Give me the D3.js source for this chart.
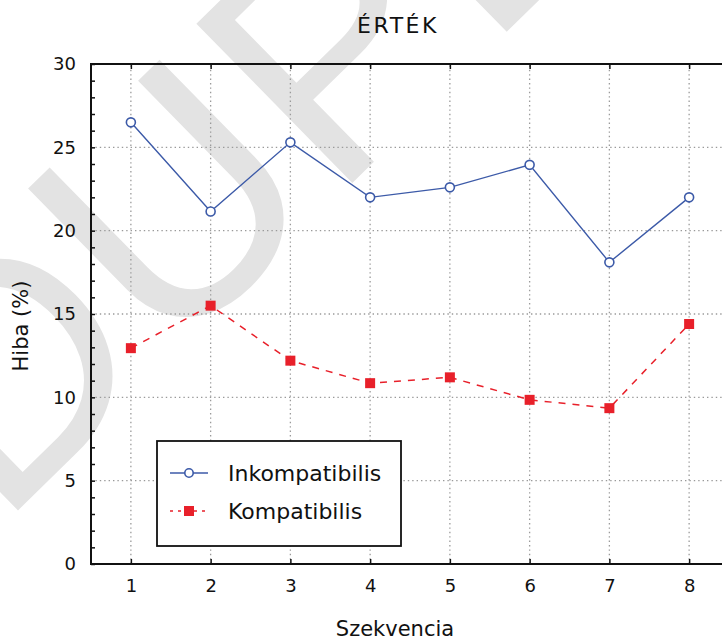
<!DOCTYPE html>
<html>
<head>
<meta charset="utf-8">
<script src="https://cdn.jsdelivr.net/npm/d3@7"></script>
<style>
  html, body { margin: 0; padding: 0; background: #fff; }
  svg { display: block; }
  text { font-family: "DejaVu Sans", Verdana, sans-serif; fill: #111; }
</style>
</head>
<body>
<svg id="chart" width="722" height="641"></svg>
<script>
// Sequence numbers on the x axis
const categories = [1, 2, 3, 4, 5, 6, 7, 8];
// Error rates (%) per sequence
const inkompatibilis = [26.5, 21.15, 25.3, 22.0, 22.6, 23.95, 18.1, 22.0];
const kompatibilis = [12.95, 15.5, 12.2, 10.85, 11.2, 9.85, 9.35, 14.4];
// Axis ticks
const yTicks = [0, 5, 10, 15, 20, 25, 30];
const yMinorTicks = d3.range(0, 31, 1);
const yGrid = [5, 10, 15, 20, 25];

const seriesNames = ["Inkompatibilis", "Kompatibilis"];
const titleText = "ÉRTÉK";
const xTitle = "Szekvencia";
const yTitle = "Hiba (%)";
const watermarkText = "DUPLIKÁTUM";

const svg = d3.select("#chart");

const x = d3.scaleLinear().domain([0.5, 8.5]).range([91, 729]);
const y = d3.scaleLinear().domain([0, 30]).range([564, 64]);

// Light grey diagonal watermark behind the chart
svg.append("text")
  .attr("transform", "translate(-1,529) rotate(-44.4)")
  .style("font-family", "'Liberation Sans', Arial, sans-serif")
  .style("font-size", "324px")
  .style("fill", "#e3e3e3")
  .text(watermarkText);

const plot = svg.append("g");

// Dotted grid
plot.append("g").selectAll("line").data(categories).join("line")
  .attr("x1", d => x(d)).attr("x2", d => x(d))
  .attr("y1", y(0)).attr("y2", y(30))
  .attr("stroke", "#9a9a9a").attr("stroke-width", 1.3)
  .attr("stroke-dasharray", "1.4,3");
plot.append("g").selectAll("line").data(yGrid).join("line")
  .attr("x1", x(0.5)).attr("x2", x(8.5))
  .attr("y1", d => y(d)).attr("y2", d => y(d))
  .attr("stroke", "#9a9a9a").attr("stroke-width", 1.3)
  .attr("stroke-dasharray", "1.4,3");

// Axes
const tickFont = "18px";
const xAxis = d3.axisBottom(x).tickValues(categories).tickSize(-5).tickPadding(15).tickFormat(d3.format("d"));
const gx = plot.append("g").attr("transform", `translate(0,${y(0)})`).call(xAxis);
gx.select(".domain").remove();
gx.selectAll("text").style("font-size", tickFont).style("font-family", "'DejaVu Sans', sans-serif").attr("fill", "#111");
gx.selectAll("line").attr("stroke", "#111").attr("stroke-width", 1.5);

const xTop = d3.axisTop(x).tickValues(categories).tickSize(-5).tickFormat("");
const gxt = plot.append("g").attr("transform", `translate(0,${y(30)})`).call(xTop);
gxt.select(".domain").remove();
gxt.selectAll("line").attr("stroke", "#111").attr("stroke-width", 1.5);

const yMinor = d3.axisLeft(y).tickValues(yMinorTicks).tickSize(-4).tickFormat("");
const gym = plot.append("g").attr("transform", `translate(${x(0.5)},0)`).call(yMinor);
gym.select(".domain").remove();
gym.selectAll("line").attr("stroke", "#111").attr("stroke-width", 1.5);

const yAxis = d3.axisLeft(y).tickValues(yTicks).tickSize(0).tickPadding(15).tickFormat(d3.format("d"));
const gy = plot.append("g").attr("transform", `translate(${x(0.5)},0)`).call(yAxis);
gy.select(".domain").remove();
gy.selectAll("text").style("font-size", tickFont).style("font-family", "'DejaVu Sans', sans-serif").attr("fill", "#111");

// Frame
plot.append("path")
  .attr("d", `M${x(8.5)},${y(0)}H${x(0.5)}V${y(30)}H${x(8.5)}`)
  .attr("fill", "none").attr("stroke", "#111").attr("stroke-width", 2);

// Series lines
const line = d3.line().x((d, i) => x(categories[i])).y(d => y(d));
const blue = "#3c5aa8", red = "#e8202a";

plot.append("path").datum(inkompatibilis)
  .attr("d", line).attr("fill", "none")
  .attr("stroke", blue).attr("stroke-width", 1.4);
plot.append("path").datum(kompatibilis)
  .attr("d", line).attr("fill", "none")
  .attr("stroke", red).attr("stroke-width", 1.5)
  .attr("stroke-dasharray", "7,7");

// Markers
plot.append("g").selectAll("circle").data(inkompatibilis).join("circle")
  .attr("cx", (d, i) => x(categories[i])).attr("cy", d => y(d)).attr("r", 4.5)
  .attr("fill", "#fff").attr("stroke", blue).attr("stroke-width", 1.6);
const sq = 10;
plot.append("g").selectAll("rect").data(kompatibilis).join("rect")
  .attr("x", (d, i) => x(categories[i]) - sq / 2).attr("y", d => y(d) - sq / 2)
  .attr("width", sq).attr("height", sq).attr("fill", red);

// Legend
const lg = svg.append("g").attr("transform", "translate(157,441)");
lg.append("rect").attr("width", 244).attr("height", 105)
  .attr("fill", "#fff").attr("stroke", "#111").attr("stroke-width", 1.8);
const rows = [
  { name: seriesNames[0], y: 32 },
  { name: seriesNames[1], y: 70 }
];
lg.append("line").attr("x1", 13).attr("x2", 51).attr("y1", rows[0].y).attr("y2", rows[0].y)
  .attr("stroke", blue).attr("stroke-width", 1.5);
lg.append("circle").attr("cx", 32).attr("cy", rows[0].y).attr("r", 4.2)
  .attr("fill", "#fff").attr("stroke", blue).attr("stroke-width", 1.6);
lg.append("line").attr("x1", 13).attr("x2", 51).attr("y1", rows[1].y).attr("y2", rows[1].y)
  .attr("stroke", red).attr("stroke-width", 1.5).attr("stroke-dasharray", "3,5");
lg.append("rect").attr("x", 27).attr("y", rows[1].y - 5).attr("width", 10).attr("height", 10).attr("fill", red);
lg.selectAll("text").data(rows).join("text")
  .attr("x", 71).attr("y", d => d.y).attr("dy", "0.35em")
  .style("font-size", "22px").text(d => d.name);

// Titles
svg.append("text").attr("x", 398).attr("y", 33).attr("text-anchor", "middle")
  .style("font-size", "22px").style("letter-spacing", "2.5px").text(titleText);
svg.append("text").attr("x", 395).attr("y", 636).attr("text-anchor", "middle")
  .style("font-size", "21px").text(xTitle);
svg.append("text").attr("transform", "translate(28,326) rotate(-90)").attr("text-anchor", "middle")
  .style("font-size", "21px").text(yTitle);
</script>
</body>
</html>
